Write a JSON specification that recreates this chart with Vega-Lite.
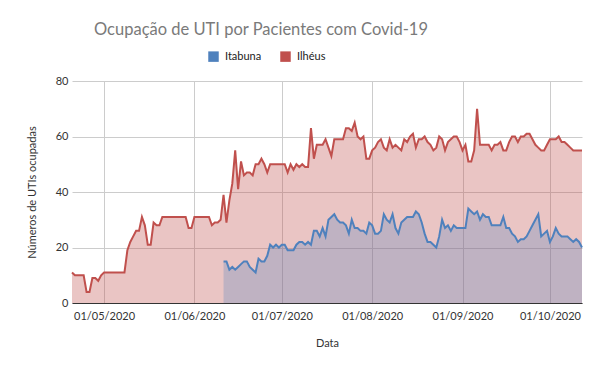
{
  "$schema": "https://vega.github.io/schema/vega-lite/v6.json",
  "width": 510,
  "height": 222,
  "autosize": {"type": "none"},
  "padding": {"left": 72, "top": 81, "right": 18, "bottom": 68},
  "background": "white",
  "title": {"text": "Ocupação de UTI  por Pacientes com Covid-19", "font": "Lato", "fontSize": 16.5, "fontWeight": "normal", "color": "#7a7a7a", "anchor": "middle", "dx": -66, "offset": 13},
  "config": {"view": {"stroke": null}},
  "data": {"values": [
    {"data": "2020-04-20", "Ilhéus": 11}, {"data": "2020-04-21", "Ilhéus": 10}, {"data": "2020-04-22", "Ilhéus": 10}, {"data": "2020-04-23", "Ilhéus": 10}, {"data": "2020-04-24", "Ilhéus": 10},
    {"data": "2020-04-25", "Ilhéus": 4}, {"data": "2020-04-26", "Ilhéus": 4}, {"data": "2020-04-27", "Ilhéus": 9}, {"data": "2020-04-28", "Ilhéus": 9}, {"data": "2020-04-29", "Ilhéus": 8},
    {"data": "2020-04-30", "Ilhéus": 10}, {"data": "2020-05-01", "Ilhéus": 11}, {"data": "2020-05-02", "Ilhéus": 11}, {"data": "2020-05-03", "Ilhéus": 11}, {"data": "2020-05-04", "Ilhéus": 11},
    {"data": "2020-05-05", "Ilhéus": 11}, {"data": "2020-05-06", "Ilhéus": 11}, {"data": "2020-05-07", "Ilhéus": 11}, {"data": "2020-05-08", "Ilhéus": 11}, {"data": "2020-05-09", "Ilhéus": 19},
    {"data": "2020-05-10", "Ilhéus": 22}, {"data": "2020-05-11", "Ilhéus": 24}, {"data": "2020-05-12", "Ilhéus": 26}, {"data": "2020-05-13", "Ilhéus": 26}, {"data": "2020-05-14", "Ilhéus": 31},
    {"data": "2020-05-15", "Ilhéus": 28}, {"data": "2020-05-16", "Ilhéus": 21}, {"data": "2020-05-17", "Ilhéus": 21}, {"data": "2020-05-18", "Ilhéus": 29}, {"data": "2020-05-19", "Ilhéus": 28},
    {"data": "2020-05-20", "Ilhéus": 28}, {"data": "2020-05-21", "Ilhéus": 31}, {"data": "2020-05-22", "Ilhéus": 31}, {"data": "2020-05-23", "Ilhéus": 31}, {"data": "2020-05-24", "Ilhéus": 31},
    {"data": "2020-05-25", "Ilhéus": 31}, {"data": "2020-05-26", "Ilhéus": 31}, {"data": "2020-05-27", "Ilhéus": 31}, {"data": "2020-05-28", "Ilhéus": 31}, {"data": "2020-05-29", "Ilhéus": 31},
    {"data": "2020-05-30", "Ilhéus": 27}, {"data": "2020-05-31", "Ilhéus": 27}, {"data": "2020-06-01", "Ilhéus": 31}, {"data": "2020-06-02", "Ilhéus": 31}, {"data": "2020-06-03", "Ilhéus": 31},
    {"data": "2020-06-04", "Ilhéus": 31}, {"data": "2020-06-05", "Ilhéus": 31}, {"data": "2020-06-06", "Ilhéus": 31}, {"data": "2020-06-07", "Ilhéus": 28}, {"data": "2020-06-08", "Ilhéus": 29},
    {"data": "2020-06-09", "Ilhéus": 29}, {"data": "2020-06-10", "Ilhéus": 30},
    {"data": "2020-06-11", "Ilhéus": 39, "Itabuna": 15}, {"data": "2020-06-12", "Ilhéus": 29, "Itabuna": 15}, {"data": "2020-06-13", "Ilhéus": 37, "Itabuna": 12}, {"data": "2020-06-14", "Ilhéus": 43, "Itabuna": 13}, {"data": "2020-06-15", "Ilhéus": 55, "Itabuna": 12},
    {"data": "2020-06-16", "Ilhéus": 41, "Itabuna": 13}, {"data": "2020-06-17", "Ilhéus": 51, "Itabuna": 14}, {"data": "2020-06-18", "Ilhéus": 46, "Itabuna": 15}, {"data": "2020-06-19", "Ilhéus": 47, "Itabuna": 15}, {"data": "2020-06-20", "Ilhéus": 47, "Itabuna": 13},
    {"data": "2020-06-21", "Ilhéus": 46, "Itabuna": 12}, {"data": "2020-06-22", "Ilhéus": 50, "Itabuna": 11}, {"data": "2020-06-23", "Ilhéus": 50, "Itabuna": 16}, {"data": "2020-06-24", "Ilhéus": 52, "Itabuna": 15}, {"data": "2020-06-25", "Ilhéus": 50, "Itabuna": 15},
    {"data": "2020-06-26", "Ilhéus": 47, "Itabuna": 17}, {"data": "2020-06-27", "Ilhéus": 50, "Itabuna": 21}, {"data": "2020-06-28", "Ilhéus": 50, "Itabuna": 20}, {"data": "2020-06-29", "Ilhéus": 50, "Itabuna": 21}, {"data": "2020-06-30", "Ilhéus": 50, "Itabuna": 20},
    {"data": "2020-07-01", "Ilhéus": 50, "Itabuna": 21}, {"data": "2020-07-02", "Ilhéus": 50, "Itabuna": 21}, {"data": "2020-07-03", "Ilhéus": 47, "Itabuna": 19}, {"data": "2020-07-04", "Ilhéus": 50, "Itabuna": 19}, {"data": "2020-07-05", "Ilhéus": 48, "Itabuna": 19},
    {"data": "2020-07-06", "Ilhéus": 50, "Itabuna": 21}, {"data": "2020-07-07", "Ilhéus": 49, "Itabuna": 22}, {"data": "2020-07-08", "Ilhéus": 50, "Itabuna": 22}, {"data": "2020-07-09", "Ilhéus": 49, "Itabuna": 21}, {"data": "2020-07-10", "Ilhéus": 49, "Itabuna": 22},
    {"data": "2020-07-11", "Ilhéus": 63, "Itabuna": 21}, {"data": "2020-07-12", "Ilhéus": 52, "Itabuna": 26}, {"data": "2020-07-13", "Ilhéus": 57, "Itabuna": 26}, {"data": "2020-07-14", "Ilhéus": 57, "Itabuna": 24}, {"data": "2020-07-15", "Ilhéus": 57, "Itabuna": 27},
    {"data": "2020-07-16", "Ilhéus": 59, "Itabuna": 24}, {"data": "2020-07-17", "Ilhéus": 56, "Itabuna": 30}, {"data": "2020-07-18", "Ilhéus": 53, "Itabuna": 31}, {"data": "2020-07-19", "Ilhéus": 59, "Itabuna": 32}, {"data": "2020-07-20", "Ilhéus": 59, "Itabuna": 30},
    {"data": "2020-07-21", "Ilhéus": 59, "Itabuna": 29}, {"data": "2020-07-22", "Ilhéus": 59, "Itabuna": 29}, {"data": "2020-07-23", "Ilhéus": 63, "Itabuna": 28}, {"data": "2020-07-24", "Ilhéus": 63, "Itabuna": 25}, {"data": "2020-07-25", "Ilhéus": 62, "Itabuna": 30},
    {"data": "2020-07-26", "Ilhéus": 65, "Itabuna": 27}, {"data": "2020-07-27", "Ilhéus": 60, "Itabuna": 27}, {"data": "2020-07-28", "Ilhéus": 59, "Itabuna": 26}, {"data": "2020-07-29", "Ilhéus": 60, "Itabuna": 26}, {"data": "2020-07-30", "Ilhéus": 52, "Itabuna": 25},
    {"data": "2020-07-31", "Ilhéus": 52, "Itabuna": 29}, {"data": "2020-08-01", "Ilhéus": 55, "Itabuna": 28}, {"data": "2020-08-02", "Ilhéus": 56, "Itabuna": 25}, {"data": "2020-08-03", "Ilhéus": 58, "Itabuna": 25}, {"data": "2020-08-04", "Ilhéus": 59, "Itabuna": 26},
    {"data": "2020-08-05", "Ilhéus": 56, "Itabuna": 32}, {"data": "2020-08-06", "Ilhéus": 55, "Itabuna": 30}, {"data": "2020-08-07", "Ilhéus": 59, "Itabuna": 29}, {"data": "2020-08-08", "Ilhéus": 56, "Itabuna": 32}, {"data": "2020-08-09", "Ilhéus": 57, "Itabuna": 27},
    {"data": "2020-08-10", "Ilhéus": 56, "Itabuna": 25}, {"data": "2020-08-11", "Ilhéus": 55, "Itabuna": 29}, {"data": "2020-08-12", "Ilhéus": 59, "Itabuna": 30}, {"data": "2020-08-13", "Ilhéus": 58, "Itabuna": 31}, {"data": "2020-08-14", "Ilhéus": 60, "Itabuna": 31},
    {"data": "2020-08-15", "Ilhéus": 61, "Itabuna": 31}, {"data": "2020-08-16", "Ilhéus": 56, "Itabuna": 33}, {"data": "2020-08-17", "Ilhéus": 59, "Itabuna": 32}, {"data": "2020-08-18", "Ilhéus": 59, "Itabuna": 29}, {"data": "2020-08-19", "Ilhéus": 60, "Itabuna": 25},
    {"data": "2020-08-20", "Ilhéus": 58, "Itabuna": 22}, {"data": "2020-08-21", "Ilhéus": 57, "Itabuna": 22}, {"data": "2020-08-22", "Ilhéus": 55, "Itabuna": 21}, {"data": "2020-08-23", "Ilhéus": 56, "Itabuna": 20}, {"data": "2020-08-24", "Ilhéus": 60, "Itabuna": 24},
    {"data": "2020-08-25", "Ilhéus": 59, "Itabuna": 30}, {"data": "2020-08-26", "Ilhéus": 55, "Itabuna": 27}, {"data": "2020-08-27", "Ilhéus": 58, "Itabuna": 28}, {"data": "2020-08-28", "Ilhéus": 59, "Itabuna": 26}, {"data": "2020-08-29", "Ilhéus": 60, "Itabuna": 28},
    {"data": "2020-08-30", "Ilhéus": 60, "Itabuna": 27}, {"data": "2020-08-31", "Ilhéus": 58, "Itabuna": 27}, {"data": "2020-09-01", "Ilhéus": 55, "Itabuna": 27}, {"data": "2020-09-02", "Ilhéus": 57, "Itabuna": 27}, {"data": "2020-09-03", "Ilhéus": 51, "Itabuna": 34},
    {"data": "2020-09-04", "Ilhéus": 51, "Itabuna": 33}, {"data": "2020-09-05", "Ilhéus": 55, "Itabuna": 32}, {"data": "2020-09-06", "Ilhéus": 70, "Itabuna": 33}, {"data": "2020-09-07", "Ilhéus": 57, "Itabuna": 30}, {"data": "2020-09-08", "Ilhéus": 57, "Itabuna": 32},
    {"data": "2020-09-09", "Ilhéus": 57, "Itabuna": 31}, {"data": "2020-09-10", "Ilhéus": 57, "Itabuna": 31}, {"data": "2020-09-11", "Ilhéus": 55, "Itabuna": 28}, {"data": "2020-09-12", "Ilhéus": 57, "Itabuna": 28}, {"data": "2020-09-13", "Ilhéus": 57, "Itabuna": 28},
    {"data": "2020-09-14", "Ilhéus": 58, "Itabuna": 28}, {"data": "2020-09-15", "Ilhéus": 55, "Itabuna": 31}, {"data": "2020-09-16", "Ilhéus": 55, "Itabuna": 27}, {"data": "2020-09-17", "Ilhéus": 58, "Itabuna": 27}, {"data": "2020-09-18", "Ilhéus": 60, "Itabuna": 25},
    {"data": "2020-09-19", "Ilhéus": 60, "Itabuna": 24}, {"data": "2020-09-20", "Ilhéus": 58, "Itabuna": 22}, {"data": "2020-09-21", "Ilhéus": 60, "Itabuna": 23}, {"data": "2020-09-22", "Ilhéus": 60, "Itabuna": 23}, {"data": "2020-09-23", "Ilhéus": 61, "Itabuna": 24},
    {"data": "2020-09-24", "Ilhéus": 61, "Itabuna": 26}, {"data": "2020-09-25", "Ilhéus": 59, "Itabuna": 28}, {"data": "2020-09-26", "Ilhéus": 57, "Itabuna": 30}, {"data": "2020-09-27", "Ilhéus": 56, "Itabuna": 32}, {"data": "2020-09-28", "Ilhéus": 55, "Itabuna": 24},
    {"data": "2020-09-29", "Ilhéus": 55, "Itabuna": 25}, {"data": "2020-09-30", "Ilhéus": 57, "Itabuna": 26}, {"data": "2020-10-01", "Ilhéus": 59, "Itabuna": 22}, {"data": "2020-10-02", "Ilhéus": 59, "Itabuna": 24}, {"data": "2020-10-03", "Ilhéus": 59, "Itabuna": 27},
    {"data": "2020-10-04", "Ilhéus": 60, "Itabuna": 25}, {"data": "2020-10-05", "Ilhéus": 58, "Itabuna": 24}, {"data": "2020-10-06", "Ilhéus": 58, "Itabuna": 24}, {"data": "2020-10-07", "Ilhéus": 57, "Itabuna": 24}, {"data": "2020-10-08", "Ilhéus": 56, "Itabuna": 23},
    {"data": "2020-10-09", "Ilhéus": 55, "Itabuna": 22}, {"data": "2020-10-10", "Ilhéus": 55, "Itabuna": 23}, {"data": "2020-10-11", "Ilhéus": 55, "Itabuna": 22}, {"data": "2020-10-12", "Ilhéus": 55, "Itabuna": 20}
  ]},
  "transform": [
    {"fold": ["Itabuna", "Ilhéus"], "as": ["serie", "valor"]},
    {"filter": "isValid(datum.valor)"}
  ],
  "encoding": {
    "x": {
      "field": "data", "type": "temporal",
      "scale": {"type": "utc", "domain": [{"year": 2020, "month": 4, "date": 20, "utc": true}, {"year": 2020, "month": 10, "date": 12, "utc": true}]},
      "axis": {
        "values": [
          {"year": 2020, "month": 5, "date": 1, "utc": true},
          {"year": 2020, "month": 6, "date": 1, "utc": true},
          {"year": 2020, "month": 7, "date": 1, "utc": true},
          {"year": 2020, "month": 8, "date": 1, "utc": true},
          {"year": 2020, "month": 9, "date": 1, "utc": true},
          {"year": 2020, "month": 10, "date": 1, "utc": true}
        ],
        "format": "%d/%m/%Y",
        "title": "Data",
        "grid": true, "gridColor": "#cccccc",
        "ticks": false,
        "domainColor": "#333333",
        "labelFont": "Lato", "labelFontSize": 11, "labelColor": "#333333", "labelPadding": 7,
        "titleFont": "Lato", "titleFontSize": 11, "titleFontWeight": "normal", "titleColor": "#333333", "titlePadding": 16
      }
    },
    "y": {
      "field": "valor", "type": "quantitative", "stack": null,
      "scale": {"domain": [0, 80]},
      "axis": {
        "values": [0, 20, 40, 60, 80],
        "title": "Números de UTIs ocupadas",
        "grid": true, "gridColor": "#cccccc",
        "domain": false, "ticks": false,
        "labelFont": "Lato", "labelFontSize": 11, "labelColor": "#333333", "labelPadding": 4,
        "titleFont": "Lato", "titleFontSize": 11, "titleFontWeight": "normal", "titleColor": "#333333", "titlePadding": 18
      }
    },
    "color": {
      "field": "serie", "type": "nominal",
      "scale": {"domain": ["Itabuna", "Ilhéus"], "range": ["#4F81BD", "#C0504D"]},
      "legend": {
        "orient": "none", "legendX": 136, "legendY": -30, "direction": "horizontal", "title": null,
        "symbolType": "square", "symbolSize": 110, "symbolOpacity": 1, "symbolStrokeWidth": 0,
        "labelFont": "Lato", "labelFontSize": 11, "labelColor": "#222222", "labelOffset": 6, "columnPadding": 18, "padding": 0
      }
    }
  },
  "layer": [
    {
      "transform": [{"filter": "datum.serie == 'Ilhéus'"}],
      "mark": {"type": "area", "fillOpacity": 0.33, "line": {"strokeWidth": 2}}
    },
    {
      "transform": [{"filter": "datum.serie == 'Itabuna'"}],
      "mark": {"type": "area", "fillOpacity": 0.28, "line": {"strokeWidth": 2}}
    }
  ]
}
